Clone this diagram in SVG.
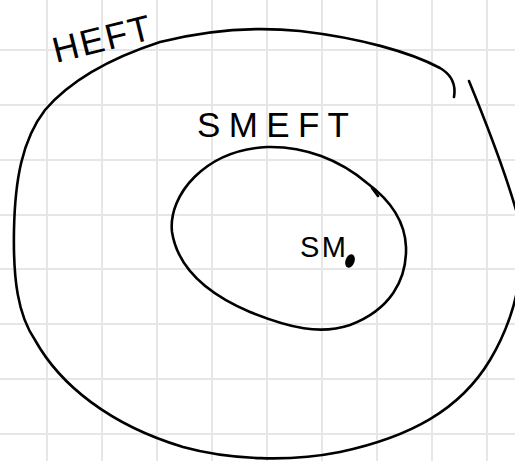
<svg xmlns="http://www.w3.org/2000/svg" width="515" height="461" viewBox="0 0 515 461">
<style>
.grid{stroke:#e6e6e6;stroke-width:2;fill:none}
.ink{stroke:#000;stroke-width:2.6;fill:none;stroke-linecap:round;stroke-linejoin:round}
.lbl{font-family:"Liberation Sans",Arial,sans-serif;fill:#000}
</style>
<rect width="515" height="461" fill="#fff"/>
<g id="grid" class="grid">
<path d="M47 0V461M102 0V461M157 0V461M212 0V461M267 0V461M322 0V461M377 0V461M432 0V461M487 0V461"/>
<path d="M0 50H515M0 105H515M0 160H515M0 215H515M0 269H515M0 324H515M0 379H515M0 434H515"/>
</g>
<g id="heft">
<path class="ink" d="M454 97 C456 85 452 75 440 68 C410 52 360 38 300 31 C250 26 200 32 160 42 C120 55 75 75 45 110 C22 140 15 180 14 230 C13 280 18 315 35 340 C60 385 110 425 183 447 C230 460 290 462 340 452 C410 437 460 410 490 360 C508 330 516 300 518 285"/>
<path class="ink" d="M469 81 C485 120 503 165 516 210"/>
<text class="lbl" transform="translate(56,63) rotate(-14)" font-size="36" textLength="100" lengthAdjust="spacing">HEFT</text>
</g>
<g id="smeft">
<path class="ink" d="M267 147 C305 146 340 160 367 183 C390 200 405 220 406 247 C407 280 390 310 350 325 C320 335 290 328 250 312 C210 295 178 270 172 232 C168 195 205 150 267 147 Z"/>
<path class="ink" d="M372 188 L378 196"/>
<text class="lbl" x="197" y="137" font-size="35" textLength="152" lengthAdjust="spacing">SMEFT</text>
</g>
<g id="sm">
<text class="lbl" x="300" y="257" font-size="29" textLength="46" lengthAdjust="spacing">SM</text>
<ellipse cx="350" cy="261" rx="4.5" ry="7" transform="rotate(20 350 261)" fill="#000"/>
</g>
</svg>
